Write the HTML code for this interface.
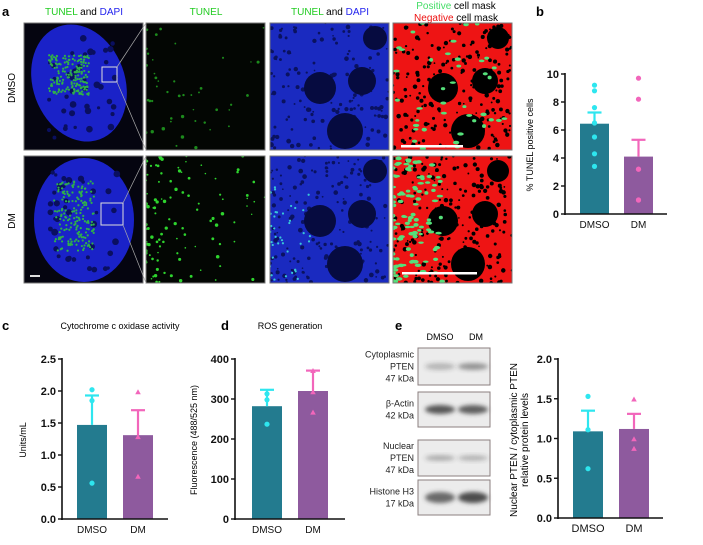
<!DOCTYPE html>
<html><head><meta charset="utf-8">
<style>
html,body{margin:0;padding:0;background:#fff;}
svg{display:block;font-family:"Liberation Sans",Arial,sans-serif;}
</style></head>
<body>
<svg id="fig" width="703" height="545" viewBox="0 0 703 545" xmlns="http://www.w3.org/2000/svg">
  <g id="panelA">
    <text x="2" y="16" font-size="13" font-weight="bold">a</text>
    <text x="84" y="15" font-size="10" text-anchor="middle"><tspan fill="#22cc22">TUNEL</tspan> and <tspan fill="#2222ee">DAPI</tspan></text>
    <text x="206" y="15" font-size="10" text-anchor="middle" fill="#22cc22">TUNEL</text>
    <text x="330" y="15" font-size="10" text-anchor="middle"><tspan fill="#22cc22">TUNEL</tspan> and <tspan fill="#2222ee">DAPI</tspan></text>
    <text x="456" y="9" font-size="10" text-anchor="middle"><tspan fill="#44dd66">Positive</tspan> cell mask</text>
    <text x="456" y="21" font-size="10" text-anchor="middle"><tspan fill="#ee1111">Negative</tspan> cell mask</text>
    <text transform="translate(15,88) rotate(-90)" font-size="10" text-anchor="middle">DMSO</text>
    <text transform="translate(15,221) rotate(-90)" font-size="10" text-anchor="middle">DM</text>
    <g id="imgs"></g>
  </g>
  <g id="chartB"></g>
  <g id="chartC"></g>
  <g id="chartD"></g>
  <g id="blot"></g>
  <g id="chartE"></g>
</svg>
<script>
// ---- chart data ----
const groups = ["DMSO", "DM"];
const bMeans = [6.45, 4.1];
const bErr = [7.25, 5.3];
const bPtsDMSO = [9.2, 8.8, 7.6, 6.5, 5.5, 4.3, 3.4];
const bPtsDM = [9.7, 8.2, 3.2, 3.2, 1.0, 1.0];
const bTicks = [0, 2, 4, 6, 8, 10];

const cMeans = [1.47, 1.31];
const cErr = [1.93, 1.70];
const cPtsDMSO = [2.02, 1.85, 0.56];
const cPtsDM = [1.98, 1.28, 0.66];
const cTicks = ["0.0", "0.5", "1.0", "1.5", "2.0", "2.5"];

const dMeans = [282, 320];
const dErr = [323, 371];
const dPtsDMSO = [313, 298, 237];
const dPtsDM = [370, 317, 266];
const dTicks = [0, 100, 200, 300, 400];

const eMeans = [1.09, 1.12];
const eErr = [1.35, 1.31];
const ePtsDMSO = [1.53, 1.11, 0.62];
const ePtsDM = [1.49, 0.99, 0.87];
const eTicks = ["0.0", "0.5", "1.0", "1.5", "2.0"];

const NS = "http://www.w3.org/2000/svg";
function mk(tag, attrs, parent) {
  const e = document.createElementNS(NS, tag);
  for (const k in attrs) e.setAttribute(k, attrs[k]);
  parent.appendChild(e);
  return e;
}

function barChart(g, o) {
  const yMax = o.yMax;
  const y = v => o.y0 - (v / yMax) * (o.y0 - o.yTop);
  const barW = o.barW;
  const xs = [o.bx0, o.bx1];
  const fills = ["#237b8f", "#8e5a9e"];
  const accents = ["#2ee6ef", "#f266bb"];
  for (let i = 0; i < 2; i++) {
    const r = mk("rect", {x: xs[i], y: y(o.means[i]), width: barW, height: o.y0 - y(o.means[i]), fill: fills[i]}, g);
    
    
    const cx = xs[i] + barW / 2;
    const e1 = mk("line", {x1: cx, x2: cx, y1: y(o.means[i]), y2: y(o.err[i]), stroke: accents[i], "stroke-width": 2.2}, g);
    
    
    const e2 = mk("line", {x1: cx - 7, x2: cx + 7, y1: y(o.err[i]), y2: y(o.err[i]), stroke: accents[i], "stroke-width": 2.2}, g);
    
    
    o.pts[i].forEach(v => {
      let p;
      if (i === 0 || !o.tri) {
        p = mk("circle", {cx: cx, cy: y(v), r: 2.6, fill: accents[i]}, g);
      } else {
        const yy = y(v);
        p = mk("polygon", {points: `${cx},${yy-3} ${cx-2.8},${yy+2} ${cx+2.8},${yy+2}`, fill: accents[i]}, g);
      }
      
      
    });
    const lbl = mk("text", {x: cx, y: o.y0 + 14, "font-size": o.lblSize || 10, "text-anchor": "middle", fill: "#111"}, g);
    lbl.textContent = groups[i];
    
    
  }
  const ya = mk("line", {x1: o.ax, x2: o.ax, y1: o.yTop - 1, y2: o.y0 + 1, stroke: "#111", "stroke-width": 1.6}, g);
  
  
  const xa = mk("line", {x1: o.ax - 1, x2: o.axEnd, y1: o.y0, y2: o.y0, stroke: "#111", "stroke-width": 1.6}, g);
  
  
  o.ticks.forEach(t => {
    const yy = y(parseFloat(t));
    const tl = mk("line", {x1: o.ax - 4, x2: o.ax, y1: yy, y2: yy, stroke: "#111", "stroke-width": 1.4}, g);
    
    
    const tx = mk("text", {x: o.ax - 6, y: yy + 4, "font-size": 11, "font-weight": "bold", "text-anchor": "end", fill: "#111"}, g);
    tx.textContent = t;
    
    
  });
}

// panel b
const gB = document.getElementById("chartB");
mk("text", {x: 536, y: 16, "font-size": 13, "font-weight": "bold"}, gB).textContent = "b";
barChart(gB, {yMax: 10, y0: 214, yTop: 74, ax: 565, axEnd: 667, bx0: 580, bx1: 624, barW: 29,
  means: bMeans, err: bErr, pts: [bPtsDMSO, bPtsDM], ticks: bTicks, tri: false});
const bt = mk("text", {transform: "translate(533,145) rotate(-90)", "font-size": 9, "text-anchor": "middle"}, gB);
bt.textContent = "% TUNEL  positive cells";



// panel c
const gC = document.getElementById("chartC");
mk("text", {x: 2, y: 330, "font-size": 13, "font-weight": "bold"}, gC).textContent = "c";
mk("text", {x: 120, y: 329, "font-size": 9, "text-anchor": "middle"}, gC).textContent = "Cytochrome c oxidase activity";
barChart(gC, {yMax: 2.5, y0: 519, yTop: 359, ax: 62, axEnd: 168, bx0: 77, bx1: 123, barW: 30,
  means: cMeans, err: cErr, pts: [cPtsDMSO, cPtsDM], ticks: cTicks, tri: true});
const ct = mk("text", {transform: "translate(26,440) rotate(-90)", "font-size": 9, "text-anchor": "middle"}, gC);
ct.textContent = "Units/mL";



// panel d
const gD = document.getElementById("chartD");
mk("text", {x: 221, y: 330, "font-size": 13, "font-weight": "bold"}, gD).textContent = "d";
mk("text", {x: 290, y: 329, "font-size": 9, "text-anchor": "middle"}, gD).textContent = "ROS generation";
barChart(gD, {yMax: 400, y0: 519, yTop: 359, ax: 235, axEnd: 345, bx0: 252, bx1: 298, barW: 30,
  means: dMeans, err: dErr, pts: [dPtsDMSO, dPtsDM], ticks: dTicks, tri: true});
const dt = mk("text", {transform: "translate(197,440) rotate(-90)", "font-size": 9, "text-anchor": "middle"}, gD);
dt.textContent = "Fluorescence (488/525 nm)";



// panel e chart
const gE = document.getElementById("chartE");
barChart(gE, {yMax: 2.0, y0: 518, yTop: 359, ax: 558, axEnd: 663, bx0: 573, bx1: 619, barW: 30,
  means: eMeans, err: eErr, pts: [ePtsDMSO, ePtsDM], ticks: eTicks, tri: true, lblSize: 11});
const et1 = mk("text", {transform: "translate(517,440) rotate(-90)", "font-size": 10, "text-anchor": "middle"}, gE);
et1.textContent = "Nuclear PTEN / cytoplasmic PTEN";


const et2 = mk("text", {transform: "translate(528,440) rotate(-90)", "font-size": 10, "text-anchor": "middle"}, gE);
et2.textContent = "relative protein levels";



// blot
const gBl = document.getElementById("blot");
mk("text", {x: 395, y: 330, "font-size": 13, "font-weight": "bold"}, gBl).textContent = "e";
mk("text", {x: 440, y: 340, "font-size": 9, "text-anchor": "middle"}, gBl).textContent = "DMSO";
mk("text", {x: 476, y: 340, "font-size": 9, "text-anchor": "middle"}, gBl).textContent = "DM";
const blots = [
  {y: 348, h: 37, lines: ["Cytoplasmic", "PTEN", "47 kDa"], b: [0.3, 0.5], bw: 5},
  {y: 392, h: 35, lines: ["β-Actin", "42 kDa"], b: [0.85, 0.8], bw: 7},
  {y: 440, h: 36, lines: ["Nuclear", "PTEN", "47 kDa"], b: [0.35, 0.3], bw: 4},
  {y: 480, h: 35, lines: ["Histone H3", "17 kDa"], b: [0.75, 0.9], bw: 9}
];
const defs = mk("defs", {}, document.getElementById("fig"));
const flt = mk("filter", {id: "blur3", x: "-20%", y: "-50%", width: "140%", height: "200%"}, defs);
mk("feGaussianBlur", {stdDeviation: 2}, flt);
blots.forEach(bl => {
  const r = mk("rect", {x: 418, y: bl.y, width: 72, height: bl.h, fill: "#ececec", stroke: "#8b7f7f", "stroke-width": 1}, gBl);
  
  
  [440, 473].forEach((cx, i) => {
    mk("ellipse", {cx: cx, cy: bl.y + bl.h / 2, rx: 15, ry: bl.bw / 2 + 1, fill: `rgba(60,60,60,${bl.b[i]})`, filter: "url(#blur3)"}, gBl);
  });
  const n = bl.lines.length;
  bl.lines.forEach((t, k) => {
    const tx = mk("text", {x: 414, y: bl.y + bl.h / 2 + (k - (n - 1) / 2) * 12 + 3, "font-size": 9, "text-anchor": "end", fill: "#222"}, gBl);
    tx.textContent = t;
  });
});

// ---- micrograph textures (decorative, deterministic) ----
let seed = 7;
function rnd() { seed = (seed * 16807) % 2147483647; return (seed - 1) / 2147483646; }
const gI = document.getElementById("imgs");
const cols = [24, 146, 270, 393];
const rows = [23, 156];
const W = 119, H = 127;
rows.forEach((ry, ri) => {
  cols.forEach((cx, ci) => {
    const g = mk("g", {}, gI);
    
    
    const cp = mk("clipPath", {id: `cp${ri}${ci}`}, defs);
    mk("rect", {x: cx, y: ry, width: W, height: H}, cp);
    const inner = mk("g", {"clip-path": `url(#cp${ri}${ci})`}, g);
    if (ci === 0) {
      mk("rect", {x: cx, y: ry, width: W, height: H, fill: "#050510"}, inner);
      if (ri === 0) {
        mk("ellipse", {cx: cx + 55, cy: ry + 60, rx: 46, ry: 60, fill: "#1a22c8", transform: `rotate(-20 ${cx+55} ${ry+60})`}, inner);
      } else {
        mk("ellipse", {cx: cx + 60, cy: ry + 64, rx: 50, ry: 62, fill: "#1a22c8"}, inner);
      }
      for (let k = 0; k < 40; k++) {
        mk("circle", {cx: cx + 25 + rnd() * 70, cy: ry + 15 + rnd() * 100, r: 1.5 + rnd() * 2, fill: "#0a0f60"}, inner);
      }
      const gx = cx + (ri === 0 ? 45 : 50), gy = ry + (ri === 0 ? 52 : 60);
      for (let k = 0; k < 180; k++) {
        mk("circle", {cx: gx + (rnd() - 0.5) * 40, cy: gy + (rnd() - 0.5) * (ri === 0 ? 40 : 70), r: 1.1, fill: "#2fb04a"}, inner);
      }
      const bx = ri === 0 ? cx + 78 : cx + 77, by = ri === 0 ? ry + 44 : ry + 47, bs = ri === 0 ? 15 : 22;
      mk("rect", {x: bx, y: by, width: bs, height: bs, fill: "none", stroke: "#ddd", "stroke-width": 1}, inner);
      if (ri === 1) mk("rect", {x: cx + 6, y: ry + 119, width: 10, height: 2, fill: "#ddd"}, inner);
    } else if (ci === 1) {
      mk("rect", {x: cx, y: ry, width: W, height: H, fill: "#030603"}, inner);
      const n = ri === 0 ? 45 : 110;
      for (let k = 0; k < n; k++) {
        const dx = Math.pow(rnd(), 2.5) * W;
        mk("circle", {cx: cx + dx, cy: ry + rnd() * H, r: 0.7 + rnd() * 1.1, fill: ri === 0 ? "#1c8a1c" : "#2ed42e"}, inner);
      }
    } else if (ci === 2) {
      mk("rect", {x: cx, y: ry, width: W, height: H, fill: "#1a2ac0"}, inner);
      for (let k = 0; k < 170; k++) {
        mk("circle", {cx: cx + rnd() * W, cy: ry + rnd() * H, r: 0.8 + rnd() * 1.6, fill: "#0a1260"}, inner);
      }
      [[50, 65, 16], [92, 58, 14], [75, 108, 18], [105, 15, 12]].forEach(c => {
        mk("circle", {cx: cx + c[0], cy: ry + c[1], r: c[2], fill: "#060b40"}, inner);
      });
      if (ri === 1) {
        for (let k = 0; k < 40; k++) {
          mk("circle", {cx: cx + Math.pow(rnd(), 2) * 40, cy: ry + 30 + rnd() * 95, r: 1.1, fill: "#38c8d8"}, inner);
        }
      }
    } else {
      mk("rect", {x: cx, y: ry, width: W, height: H, fill: "#ee1414"}, inner);
      for (let k = 0; k < 220; k++) {
        mk("circle", {cx: cx + rnd() * W, cy: ry + rnd() * H, r: 0.8 + rnd() * 1.5, fill: "#000"}, inner);
      }
      [[50, 65, 15], [92, 58, 13], [75, 108, 17], [105, 15, 11]].forEach(c => {
        mk("circle", {cx: cx + c[0], cy: ry + c[1], r: c[2], fill: "#000"}, inner);
      });
      const n = ri === 0 ? 40 : 110;
      for (let k = 0; k < n; k++) {
        const dx = ri === 0 ? rnd() * W : Math.pow(rnd(), 2) * 50;
        mk("ellipse", {cx: cx + dx, cy: ry + rnd() * H, rx: 2 + rnd() * 1.3, ry: 1.2 + rnd() * 0.8, fill: "#55e07a"}, inner);
      }
      if (ri === 0) mk("rect", {x: 401, y: ry + 122, width: 62, height: 2.5, fill: "#fff"}, inner);
      else mk("rect", {x: 402, y: ry + 116, width: 75, height: 2.5, fill: "#fff"}, inner);
    }
    mk("rect", {x: cx, y: ry, width: W, height: H, fill: "none", stroke: "#777", "stroke-width": 1}, g);
  });
});
// zoom guide lines
mk("line", {x1: 117, y1: 67, x2: 146, y2: 23, stroke: "#aaa", "stroke-width": 0.7}, gI);
mk("line", {x1: 117, y1: 82, x2: 146, y2: 150, stroke: "#aaa", "stroke-width": 0.7}, gI);
mk("line", {x1: 123, y1: 203, x2: 146, y2: 156, stroke: "#aaa", "stroke-width": 0.7}, gI);
mk("line", {x1: 123, y1: 225, x2: 146, y2: 283, stroke: "#aaa", "stroke-width": 0.7}, gI);
</script>
</body></html>
